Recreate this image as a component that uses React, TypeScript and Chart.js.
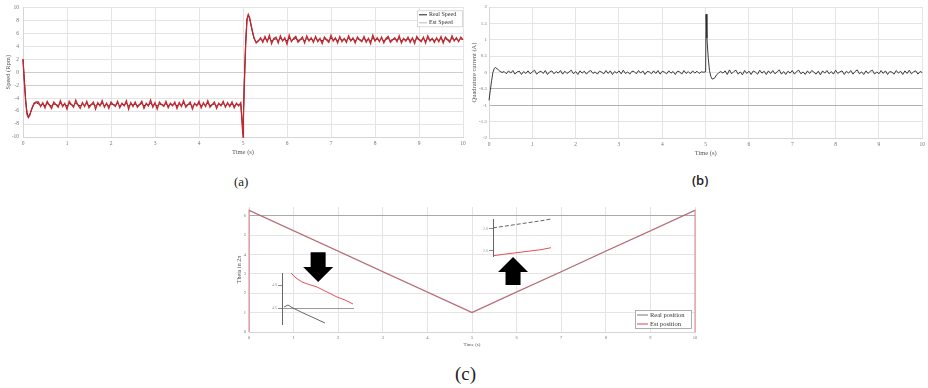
import React, { useEffect, useRef } from 'react';
import { Chart, registerables } from 'chart.js';

Chart.register(...registerables);

const FONT = "'Liberation Serif', 'DejaVu Serif', serif";

// ---------- shared sample times (s) ----------
const timeStart = [0, 0.03, 0.06, 0.09, 0.12, 0.15, 0.2, 0.25, 0.3];
const timeNeg = [
  0.35, 0.4, 0.45, 0.5, 0.55, 0.6, 0.65, 0.7, 0.75, 0.8, 0.85, 0.9, 0.95,
  1, 1.05, 1.1, 1.15, 1.2, 1.25, 1.3, 1.35, 1.4, 1.45, 1.5, 1.55, 1.6, 1.65, 1.7, 1.75, 1.8, 1.85, 1.9, 1.95,
  2, 2.05, 2.1, 2.15, 2.2, 2.25, 2.3, 2.35, 2.4, 2.45, 2.5, 2.55, 2.6, 2.65, 2.7, 2.75, 2.8, 2.85, 2.9, 2.95,
  3, 3.05, 3.1, 3.15, 3.2, 3.25, 3.3, 3.35, 3.4, 3.45, 3.5, 3.55, 3.6, 3.65, 3.7, 3.75, 3.8, 3.85, 3.9, 3.95,
  4, 4.05, 4.1, 4.15, 4.2, 4.25, 4.3, 4.35, 4.4, 4.45, 4.5, 4.55, 4.6, 4.65, 4.7, 4.75, 4.8, 4.85, 4.9, 4.95,
];
const timeStep = [5.0, 5.01, 5.03, 5.06, 5.09, 5.12, 5.15, 5.2, 5.25, 5.3, 5.35];
const timePos = [
  5.4, 5.45, 5.5, 5.55, 5.6, 5.65, 5.7, 5.75, 5.8, 5.85, 5.9, 5.95,
  6, 6.05, 6.1, 6.15, 6.2, 6.25, 6.3, 6.35, 6.4, 6.45, 6.5, 6.55, 6.6, 6.65, 6.7, 6.75, 6.8, 6.85, 6.9, 6.95,
  7, 7.05, 7.1, 7.15, 7.2, 7.25, 7.3, 7.35, 7.4, 7.45, 7.5, 7.55, 7.6, 7.65, 7.7, 7.75, 7.8, 7.85, 7.9, 7.95,
  8, 8.05, 8.1, 8.15, 8.2, 8.25, 8.3, 8.35, 8.4, 8.45, 8.5, 8.55, 8.6, 8.65, 8.7, 8.75, 8.8, 8.85, 8.9, 8.95,
  9, 9.05, 9.1, 9.15, 9.2, 9.25, 9.3, 9.35, 9.4, 9.45, 9.5, 9.55, 9.6, 9.65, 9.7, 9.75, 9.8, 9.85, 9.9, 9.95,
  10,
];

// ---------- (a) speed, Rpm ----------
const estSpeedStart = [2.0, -1.5, -4.5, -6.5, -7.0, -6.7, -5.6, -4.8, -4.6];
const estSpeedNeg = [
  -4.6, -5.3, -4.7, -5.5, -4.5, -5.1, -5.6, -4.6, -5.0, -5.4,
  -4.4, -5.3, -4.8, -5.7, -4.5, -5.0, -5.4, -4.3, -5.1, -5.6,
  -4.7, -5.3, -4.5, -5.5, -5.0, -4.6, -5.7, -4.7, -5.2, -4.4,
  -5.4, -4.8, -5.6, -4.6, -5.0, -5.3, -4.5, -5.5, -4.8, -5.2,
  -4.4, -5.7, -4.7, -5.3, -4.6, -5.4, -5.0, -4.5, -5.6, -4.8,
  -5.2, -4.3, -5.4, -4.7, -5.7, -4.6, -5.0, -5.3, -4.5, -5.5,
  -4.8, -5.2, -4.6, -5.6, -4.7, -5.3, -4.4, -5.4, -5.0, -4.6,
  -5.7, -4.8, -5.2, -4.5, -5.5, -4.7, -5.3, -4.4, -5.4, -5.0,
  -4.6, -5.6, -4.8, -5.2, -4.5, -5.4, -4.7, -5.3, -4.6, -5.5,
  -4.8, -5.2, -4.7,
];
const estSpeedStep = [-10, -7, -2, 4, 8, 8.9, 8.4, 6.8, 5.3, 4.5, 4.8];
const estSpeedPos = [
  5.3, 4.6, 5.5, 4.7, 5.7, 4.4, 5.2, 5.4, 4.5, 5.6,
  4.8, 5.3, 4.3, 5.7, 4.7, 5.2, 5.5, 4.6, 5.0, 5.4,
  4.5, 5.6, 4.8, 5.3, 4.6, 5.5, 4.7, 5.2, 4.4, 5.4,
  5.0, 4.6, 5.7, 4.8, 5.3, 4.5, 5.5, 4.7, 5.2, 4.6,
  5.6, 4.8, 5.3, 4.5, 5.4, 5.0, 4.7, 5.5, 4.6, 5.2,
  4.4, 5.7, 4.8, 5.3, 4.7, 5.4, 4.5, 5.2, 5.5, 4.6,
  5.0, 5.3, 4.7, 5.6, 4.5, 5.2, 4.8, 5.4, 4.6, 5.3,
  4.4, 5.5, 5.0, 4.7, 5.4, 4.5, 5.6, 4.8, 5.2, 4.6,
  5.3, 4.7, 5.5, 4.5, 5.4, 5.0, 4.6, 5.6, 4.8, 5.3,
  4.7, 5.4, 5.0,
];
const realSpeedStart = [2.0, -1.2, -4.2, -6.2, -6.8, -6.6, -5.7, -4.9, -4.7];
const realSpeedNeg = [
  -4.9, -5.1, -4.95, -5.2, -4.85, -5.05, -5.2, -4.9, -5.0, -5.15,
  -4.8, -5.1, -4.95, -5.25, -4.85, -5.0, -5.15, -4.8, -5.05, -5.2,
  -4.9, -5.1, -4.85, -5.2, -5.0, -4.9, -5.25, -4.9, -5.05, -4.8,
  -5.15, -4.95, -5.2, -4.9, -5.0, -5.1, -4.85, -5.2, -4.95, -5.05,
  -4.8, -5.25, -4.9, -5.1, -4.9, -5.15, -5.0, -4.85, -5.2, -4.95,
  -5.05, -4.8, -5.15, -4.9, -5.25, -4.9, -5.0, -5.1, -4.85, -5.2,
  -4.95, -5.05, -4.9, -5.2, -4.9, -5.1, -4.8, -5.15, -5.0, -4.9,
  -5.25, -4.95, -5.05, -4.85, -5.2, -4.9, -5.1, -4.8, -5.15, -5.0,
  -4.9, -5.2, -4.95, -5.05, -4.85, -5.15, -4.9, -5.1, -4.9, -5.2,
  -4.95, -5.05, -4.9,
];
const realSpeedStep = [-9.5, -6.5, -1.5, 4.5, 8.2, 8.8, 8.3, 6.6, 5.2, 4.6, 4.9];
const realSpeedPos = [
  5.1, 4.9, 5.2, 4.9, 5.25, 4.8, 5.05, 5.15, 4.85, 5.2,
  4.95, 5.1, 4.8, 5.25, 4.9, 5.05, 5.2, 4.9, 5.0, 5.15,
  4.85, 5.2, 4.95, 5.1, 4.9, 5.2, 4.9, 5.05, 4.8, 5.15,
  5.0, 4.9, 5.25, 4.95, 5.1, 4.85, 5.2, 4.9, 5.05, 4.9,
  5.2, 4.95, 5.1, 4.85, 5.15, 5.0, 4.9, 5.2, 4.9, 5.05,
  4.8, 5.25, 4.95, 5.1, 4.9, 5.15, 4.85, 5.05, 5.2, 4.9,
  5.0, 5.1, 4.9, 5.2, 4.85, 5.05, 4.95, 5.15, 4.9, 5.1,
  4.8, 5.2, 5.0, 4.9, 5.15, 4.85, 5.2, 4.95, 5.05, 4.9,
  5.1, 4.9, 5.2, 4.85, 5.15, 5.0, 4.9, 5.2, 4.95, 5.1,
  4.9, 5.15, 5.0,
];

// ---------- (b) quadrature current, A ----------
const currentStart = [-0.85, -0.55, -0.25, 0.0, 0.12, 0.15, 0.1, 0.04, 0.0];
const currentNeg = [
  0.03, -0.04, 0.05, -0.02, 0.06, -0.05, 0.02, 0.04, -0.06, 0.03,
  -0.03, 0.05, -0.04, 0.02, 0.07, -0.05, 0.01, 0.04, -0.03, 0.06,
  -0.06, 0.02, 0.05, -0.04, 0.03, -0.02, 0.06, -0.05, 0.04, -0.03,
  0.02, 0.07, -0.04, 0.03, -0.06, 0.05, -0.02, 0.04, -0.05, 0.03,
  0.06, -0.03, 0.02, -0.05, 0.04, 0.01, -0.04, 0.06, -0.03, 0.05,
  -0.06, 0.03, -0.02, 0.05, -0.04, 0.07, -0.03, 0.02, -0.05, 0.04,
  0.03, -0.04, 0.06, -0.02, 0.05, -0.06, 0.03, 0.02, -0.04, 0.05,
  -0.03, 0.06, -0.05, 0.04, 0.01, -0.04, 0.05, -0.02, 0.03, -0.06,
  0.04, 0.02, -0.05, 0.06, -0.03, 0.03, -0.04, 0.05, -0.02, 0.04,
  -0.03, 0.02, 0.01,
];
const currentStep = [0.02, 1.78, 1.05, 0.45, 0.05, -0.12, -0.2, -0.18, -0.08, -0.01, 0.03];
const currentPos = [
  -0.02, 0.05, -0.06, 0.08, -0.04, 0.03, 0.07, -0.05, 0.02, -0.07,
  0.06, -0.03, 0.04, -0.06, 0.05, 0.01, -0.05, 0.07, -0.02, 0.04,
  -0.06, 0.05, -0.03, 0.06, -0.04, 0.02, 0.08, -0.05, 0.03, -0.06,
  0.04, -0.02, 0.06, -0.05, 0.03, 0.07, -0.04, 0.02, -0.06, 0.05,
  -0.03, 0.06, 0.01, -0.05, 0.04, -0.07, 0.05, -0.02, 0.06, -0.04,
  0.03, -0.05, 0.07, -0.03, 0.02, 0.05, -0.06, 0.04, -0.02, 0.06,
  -0.05, 0.03, 0.08, -0.04, 0.02, -0.06, 0.05, -0.03, 0.04, 0.07,
  -0.05, 0.02, -0.04, 0.06, -0.03, 0.05, -0.06, 0.03, 0.01, -0.05,
  0.06, -0.02, 0.04, -0.06, 0.05, -0.03, 0.07, -0.04, 0.02, 0.05,
  -0.05, 0.03, 0.0,
];

// ---------- (c) position ----------
const thetaTime = [0, 1, 2, 3, 4, 5, 6, 7, 8, 9, 10];
const thetaReal = [6.28, 5.22, 4.17, 3.11, 2.06, 1.0, 2.06, 3.11, 4.17, 5.22, 6.28];
const thetaEstTime = [0, 0, 1, 2, 3, 4, 5, 6, 7, 8, 9, 10, 10];
const thetaEst = [0, 6.28, 5.23, 4.17, 3.12, 2.06, 1.01, 2.07, 3.11, 4.18, 5.22, 6.28, 0];

// zoom insets (inset-local units)
const insetLeftRealX = [2, 6, 10, 20, 30, 43];
const insetLeftRealY = [17, 19, 16.5, 11.5, 7, 1];
const insetLeftEstX = [9, 14, 20, 27, 35, 45, 55, 63, 71];
const insetLeftEstY = [51, 46, 42, 39.5, 37, 32, 27, 24, 20];
const insetLeftTicks = [16, 39];
const insetLeftTickLabels = ['4.6', '4.8'];
const insetRightRealX = [0, 10, 20, 30, 40, 50, 58];
const insetRightRealY = [29, 30.5, 32, 33.5, 35, 36.5, 38];
const insetRightEstX = [1, 12, 24, 36, 48, 58];
const insetRightEstY = [1, 2.5, 4, 5.5, 7, 9];
const insetRightTicks = [6, 28];
const insetRightTickLabels = ['2.6', '2.8'];

// block arrows in (c), data coordinates
const arrowMarks = [
  { t: 1.55, from: 4.12, to: 2.58 },
  { t: 5.92, from: 2.42, to: 3.87 },
];

type Pt = { x: number; y: number };
const zip = (xs: number[], ys: number[]): Pt[] => xs.map((x, i) => ({ x, y: ys[i] }));

const sampleTime = [...timeStart, ...timeNeg, ...timeStep, ...timePos];
const estSpeed = [...estSpeedStart, ...estSpeedNeg, ...estSpeedStep, ...estSpeedPos];
const realSpeed = [...realSpeedStart, ...realSpeedNeg, ...realSpeedStep, ...realSpeedPos];
const current = [...currentStart, ...currentNeg, ...currentStep, ...currentPos];

// ---------- plugins ----------
const legendBoxPlugin = {
  id: 'legendBox',
  afterDatasetsDraw(chart: any, _args: any, opts: any) {
    if (!opts || !opts.display) return;
    const { ctx, chartArea } = chart;
    const w = opts.width;
    const h = opts.height;
    const x = chartArea.right - opts.right - w;
    const y = opts.anchor === 'top' ? chartArea.top + opts.offsetY : chartArea.bottom - opts.offsetY - h;
    ctx.save();
    ctx.fillStyle = '#ffffff';
    ctx.fillRect(x, y, w, h);
    ctx.strokeStyle = opts.borderColor;
    ctx.lineWidth = 0.8;
    ctx.strokeRect(x + 0.5, y + 0.5, w, h);
    ctx.font = `${opts.fontSize}px ${FONT}`;
    ctx.textBaseline = 'middle';
    const items = chart.data.datasets.filter((d: any) => d.label);
    const rowH = h / items.length;
    items.forEach((d: any, i: number) => {
      const cy = y + rowH * (i + 0.5) + 0.5;
      ctx.strokeStyle = d.legendColor ?? d.borderColor;
      ctx.lineWidth = d.legendLineWidth ?? d.borderWidth;
      ctx.beginPath();
      ctx.moveTo(x + 2, cy);
      ctx.lineTo(x + 2 + opts.lineLen, cy);
      ctx.stroke();
      ctx.fillStyle = '#333';
      ctx.fillText(d.label, x + 4 + opts.lineLen, cy);
    });
    ctx.restore();
  },
};

const blockArrowPlugin = {
  id: 'blockArrows',
  afterDatasetsDraw(chart: any, _args: any, opts: any) {
    if (!opts || !opts.arrows) return;
    const { ctx } = chart;
    const xs = chart.scales.x;
    const ys = chart.scales.y;
    ctx.save();
    ctx.fillStyle = '#000';
    opts.arrows.forEach((a: any) => {
      const cx = xs.getPixelForValue(a.t);
      const y0 = ys.getPixelForValue(a.from);
      const y1 = ys.getPixelForValue(a.to);
      const dir = Math.sign(y1 - y0);
      const hb = y1 - dir * opts.headLen;
      const sw = opts.shaftW / 2;
      const hw = opts.headW / 2;
      ctx.beginPath();
      ctx.moveTo(cx - sw, y0);
      ctx.lineTo(cx + sw, y0);
      ctx.lineTo(cx + sw, hb);
      ctx.lineTo(cx + hw, hb);
      ctx.lineTo(cx, y1);
      ctx.lineTo(cx - hw, hb);
      ctx.lineTo(cx - sw, hb);
      ctx.closePath();
      ctx.fill();
    });
    ctx.restore();
  },
};

const LIGHT = '#e4e4e4';
const gridColor = (dark: number[], darkColor: string) => (c: any) =>
  c.tick && dark.includes(c.tick.value) ? darkColor : LIGHT;
const plainNum = (v: any) => String(Math.round(Number(v) * 100) / 100);

const baseLine = { pointRadius: 0, tension: 0, fill: false, clip: 3 };

function xAxis(height: number, tickSize: number, titleSize: number) {
  return {
    type: 'linear',
    min: 0,
    max: 10,
    ticks: { stepSize: 1, padding: 3, font: { family: FONT, size: tickSize }, color: '#777', maxRotation: 0, autoSkip: false, includeBounds: false, callback: plainNum },
    grid: { color: LIGHT, drawTicks: false },
    border: { display: true, color: '#d6d6d6' },
    title: { display: true, text: 'Time (s)', font: { family: FONT, size: titleSize }, color: '#555', padding: 0 },
    afterFit: (s: any) => { s.height = height; },
  };
}

const commonOpts = {
  responsive: false,
  maintainAspectRatio: false,
  animation: false,
  events: [],
};

function buildA() {
  return {
    type: 'line',
    data: {
      datasets: [
        { ...baseLine, label: 'Real Speed', data: zip(sampleTime, realSpeed), borderColor: '#1c1c1c', borderWidth: 1, order: 2 },
        { ...baseLine, label: 'Est Speed', data: zip(sampleTime, estSpeed), borderColor: '#c8262f', borderWidth: 1.3, order: 1, legendLineWidth: 0.6, legendColor: '#888' },
      ],
    },
    options: {
      ...commonOpts,
      layout: { padding: { left: 0, top: 7, right: 7, bottom: 0 } },
      scales: {
        x: xAxis(19, 5.5, 6.5),
        y: {
          type: 'linear', min: -10, max: 10,
          ticks: { stepSize: 2, padding: 4, font: { family: FONT, size: 5.5 }, color: '#777', includeBounds: false, callback: plainNum },
          grid: { color: gridColor([0, -2], '#cdcdcd'), drawTicks: false },
          border: { display: true, color: '#d6d6d6' },
          title: { display: true, text: 'Speed (Rpm)', font: { family: FONT, size: 6.5 }, color: '#555', padding: { top: 4, bottom: 0 } },
          afterFit: (s: any) => { s.width = 23; },
        },
      },
      plugins: {
        legend: { display: false },
        tooltip: { enabled: false },
        legendBox: { display: true, anchor: 'top', right: 1, offsetY: 3, width: 45, height: 16, lineLen: 8, fontSize: 6, borderColor: '#cfcfcf' },
      },
    },
    plugins: [legendBoxPlugin],
  };
}

function buildB() {
  return {
    type: 'line',
    data: {
      datasets: [
        { ...baseLine, label: 'Quadrature current', data: zip(sampleTime, current), borderColor: '#262626', borderWidth: 0.9 },
      ],
    },
    options: {
      ...commonOpts,
      layout: { padding: { left: 0, top: 7, right: 1, bottom: 0 } },
      scales: {
        x: xAxis(19, 5.5, 6.5),
        y: {
          type: 'linear', min: -2, max: 2,
          ticks: { stepSize: 0.5, padding: 2, font: { family: FONT, size: 5 }, color: '#777', includeBounds: false, callback: plainNum },
          grid: { color: gridColor([-0.5, -1], '#b0b0b0'), drawTicks: false },
          border: { display: true, color: '#d6d6d6' },
          title: { display: true, text: 'Quadrature current (A)', font: { family: FONT, size: 6.5 }, color: '#555', padding: 0 },
          afterFit: (s: any) => { s.width = 19; },
        },
      },
      plugins: { legend: { display: false }, tooltip: { enabled: false } },
    },
  };
}

function buildC() {
  return {
    type: 'line',
    data: {
      datasets: [
        { ...baseLine, label: 'Real position', data: zip(thetaTime, thetaReal), borderColor: '#808080', borderWidth: 1, order: 2, legendLineWidth: 0.8, legendColor: '#555' },
        { ...baseLine, label: 'Est position', data: zip(thetaEstTime, thetaEst), borderColor: 'rgba(214,96,110,0.6)', borderWidth: 1.3, order: 1, legendLineWidth: 1.6, legendColor: '#e88a9a' },
      ],
    },
    options: {
      ...commonOpts,
      layout: { padding: { left: 10, top: 7, right: 10, bottom: 0 } },
      scales: {
        x: xAxis(16, 4.5, 5),
        y: {
          type: 'linear', min: 0, max: 6.45,
          ticks: { stepSize: 1, padding: 3, font: { family: FONT, size: 4.5 }, color: '#777', includeBounds: false, callback: plainNum },
          grid: { color: gridColor([6], '#a9a9a9'), drawTicks: false },
          border: { display: true, color: '#d6d6d6' },
          title: { display: true, text: 'Theta in 2π', font: { family: FONT, size: 6 }, color: '#555', padding: { top: 1, bottom: 0 } },
          afterFit: (s: any) => { s.width = 14; },
        },
      },
      plugins: {
        legend: { display: false },
        tooltip: { enabled: false },
        legendBox: { display: true, anchor: 'bottom', right: 4, offsetY: 4, width: 56, height: 18, lineLen: 11, fontSize: 6.5, borderColor: '#999' },
        blockArrows: { arrows: arrowMarks, shaftW: 15, headW: 30, headLen: 15 },
      },
    },
    plugins: [legendBoxPlugin, blockArrowPlugin],
  };
}

function buildInset(realX: number[], realY: number[], estX: number[], estY: number[], xMax: number, yMax: number,
  ticks: number[], labels: string[], axisW: number, pad: any, longTick: number | null, realDash: number[]) {
  return {
    type: 'line',
    data: {
      datasets: [
        { ...baseLine, data: zip(realX, realY), borderColor: '#555', borderWidth: 0.9, borderDash: realDash },
        { ...baseLine, data: zip(estX, estY), borderColor: '#e0505c', borderWidth: 1 },
      ],
    },
    options: {
      ...commonOpts,
      layout: { padding: pad },
      scales: {
        x: { type: 'linear', display: false, min: 0, max: xMax },
        y: {
          type: 'linear', min: 0, max: yMax,
          afterBuildTicks: (s: any) => { s.ticks = ticks.map((v) => ({ value: v })); },
          ticks: { padding: 1, font: { family: FONT, size: 4 }, color: '#999', callback: (_v: any, i: number) => labels[i] },
          grid: {
            color: (c: any) => (c.tick && c.tick.value === longTick ? '#9a9a9a' : 'rgba(0,0,0,0)'),
            tickColor: '#888',
            tickLength: 4,
            drawTicks: true,
          },
          border: { display: true, color: '#666', width: 1 },
          afterFit: (s: any) => { s.width = axisW; },
        },
      },
      plugins: { legend: { display: false }, tooltip: { enabled: false } },
    },
  };
}

function Panel({ left, top, width, height, build, z }: { left: number; top: number; width: number; height: number; build: () => any; z?: number }) {
  const ref = useRef<HTMLCanvasElement>(null);
  useEffect(() => {
    if (!ref.current) return;
    const chart = new Chart(ref.current, build());
    return () => chart.destroy();
  }, []);
  return (
    <canvas
      ref={ref}
      width={width}
      height={height}
      style={{ position: 'absolute', left, top, width, height, zIndex: z ?? 1 }}
    />
  );
}

const captionStyle = (left: number, top: number, size: number, family: string, weight = 400): React.CSSProperties => ({
  position: 'absolute', left, top, fontSize: size, fontFamily: family, fontWeight: weight, color: '#222', lineHeight: 1, whiteSpace: 'nowrap',
});

export default function App() {
  return (
    <div style={{ position: 'fixed', left: 0, top: 0, width: 928, height: 388, background: '#fff', overflow: 'hidden' }}>
      <Panel left={0} top={0} width={470} height={156} build={buildA} />
      <Panel left={470} top={0} width={458} height={157} build={buildB} />
      <Panel left={225} top={200} width={480} height={148} build={buildC} />
      <Panel
        left={262} top={268} width={95} height={60} z={2}
        build={() => buildInset(insetLeftRealX, insetLeftRealY, insetLeftEstX, insetLeftEstY, 72, 51,
          insetLeftTicks, insetLeftTickLabels, 20, { left: 0, top: 5, right: 3, bottom: 4 }, 16, [])}
      />
      <Panel
        left={478} top={214} width={76} height={46} z={2}
        build={() => buildInset(insetRightRealX, insetRightRealY, insetRightEstX, insetRightEstY, 58, 38,
          insetRightTicks, insetRightTickLabels, 15, { left: 0, top: 5, right: 3, bottom: 3 }, null, [4, 2])}
      />
      <div style={captionStyle(234, 175, 13, FONT)}>(a)</div>
      <div style={captionStyle(692, 174, 13, "'Open Sans', 'Liberation Sans', sans-serif", 600)}>(b)</div>
      <div style={captionStyle(455, 364, 19, FONT)}>(c)</div>
    </div>
  );
}
